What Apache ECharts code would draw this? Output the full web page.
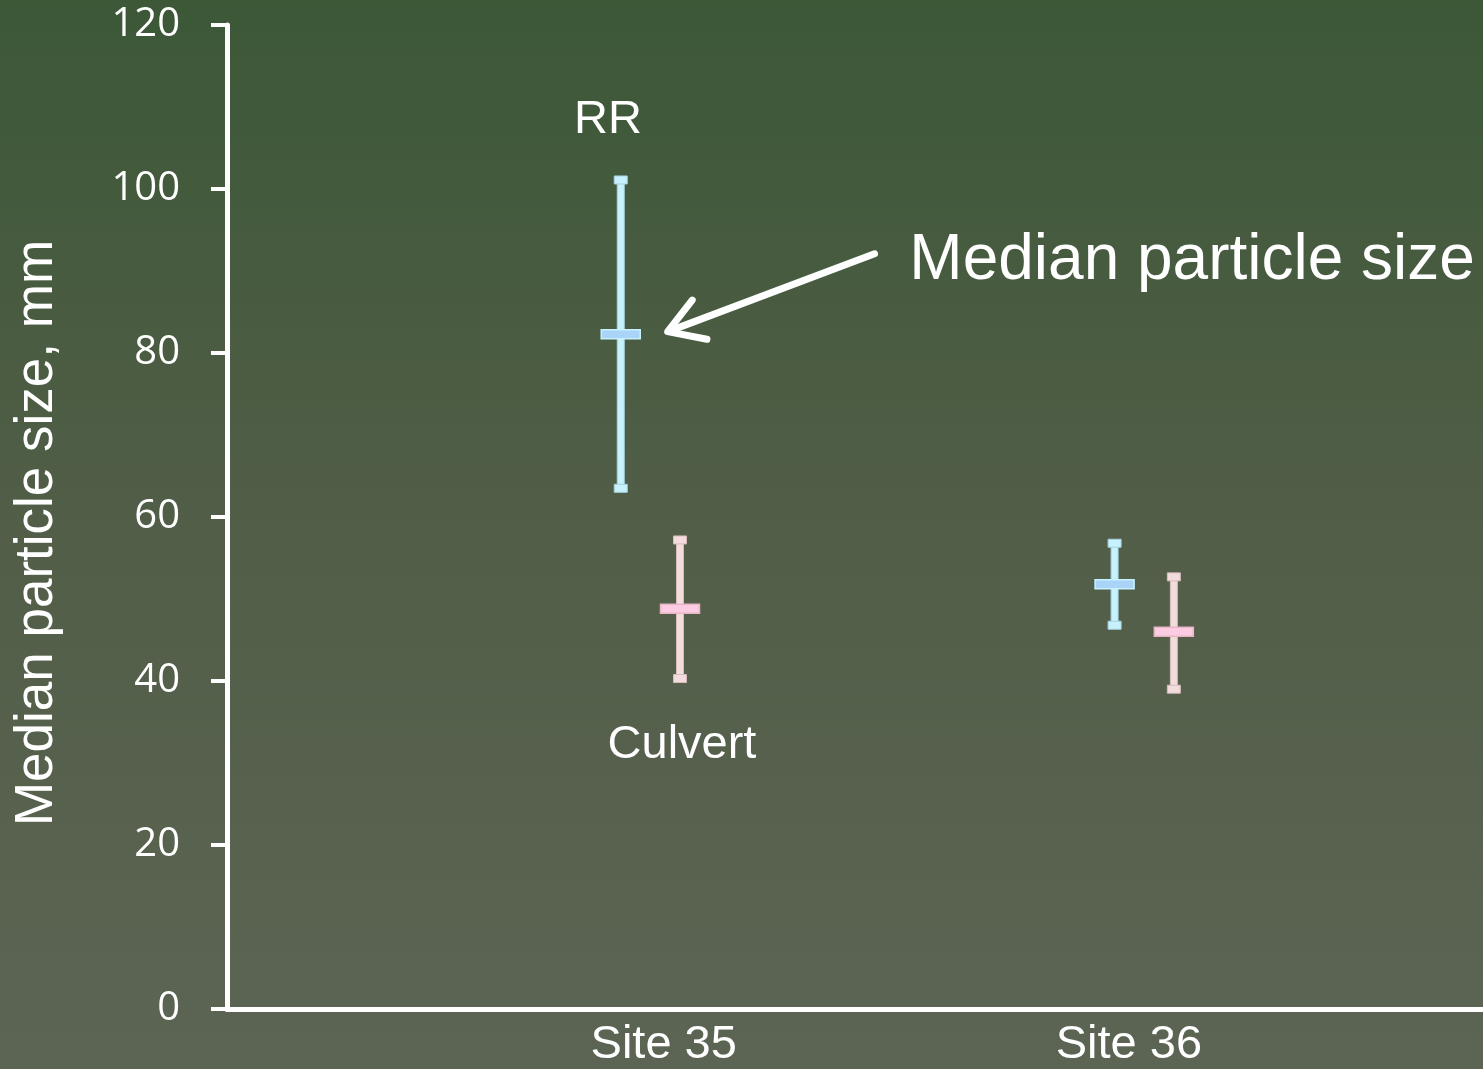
<!DOCTYPE html>
<html>
<head>
<meta charset="utf-8">
<script src="https://cdn.jsdelivr.net/npm/echarts@6/dist/echarts.min.js"></script>
<style>
html,body{margin:0;padding:0;}
#chart{width:1483px;height:1069px;}
</style>
</head>
<body>
<div id="chart"></div>
<script>
// ---- data ----
var categories = ['Site 35', 'Site 36'];
var siteIndex = [1, 2];
var yTicks = [0, 20, 40, 60, 80, 100, 120];
var rrLow = [63.5, 46.8];
var rrMedian = [82.3, 51.8];
var rrHigh = [101.1, 56.8];
var culvertLow = [40.3, 39.0];
var culvertMedian = [48.8, 46.0];
var culvertHigh = [57.2, 52.7];
var labelPositions = [1.027, 1.969];

var OFFSET = 0.06;
var chart = echarts.init(document.getElementById('chart'));

function errorBarSeries(name, low, med, high, dx, lineFill, lineStroke, medFill, medStroke) {
  var data = siteIndex.map(function (s, i) { return [s + dx, low[i], med[i], high[i]]; });
  return {
    type: 'custom', name: name, data: data,
    encode: { x: 0, y: [1, 2, 3] },
    renderItem: function (params, api) {
      var x = api.value(0);
      var pLow = api.coord([x, api.value(1)]);
      var pMed = api.coord([x, api.value(2)]);
      var pHigh = api.coord([x, api.value(3)]);
      var cx = pLow[0];
      var lineStyle = { fill: lineFill, stroke: lineStroke, lineWidth: 1 };
      return {
        type: 'group',
        children: [
          { type: 'rect', shape: { x: cx - 3.5, y: pHigh[1], width: 7, height: pLow[1] - pHigh[1] }, style: lineStyle },
          { type: 'rect', shape: { x: cx - 6.5, y: pHigh[1] - 4, width: 13, height: 8 }, style: lineStyle },
          { type: 'rect', shape: { x: cx - 6.5, y: pLow[1] - 4, width: 13, height: 8 }, style: lineStyle },
          { type: 'rect', shape: { x: cx - 19.5, y: pMed[1] - 4.5, width: 39, height: 9 }, style: { fill: medFill, stroke: medStroke, lineWidth: 1.5 } }
        ]
      };
    }
  };
}

var option = {
  backgroundColor: {
    type: 'linear', x: 0, y: 0, x2: 0, y2: 1,
    colorStops: [
      { offset: 0, color: '#3c5837' },
      { offset: 0.5, color: '#525e48' },
      { offset: 1, color: '#5c6554' }
    ]
  },
  animation: false,
  grid: { left: 227, right: 0, top: 25, bottom: 55, containLabel: false },
  xAxis: {
    type: 'value', min: 0.1427, max: 2.686,
    splitLine: { show: false },
    axisLine: { show: true, onZero: false, lineStyle: { color: '#ffffff', width: 5 } },
    axisTick: { show: false },
    axisLabel: {
      show: true,
      customValues: labelPositions,
      formatter: function (v) {
        var idx = labelPositions.indexOf(v);
        return idx >= 0 ? categories[idx] : '';
      },
      color: '#ffffff', fontFamily: 'Liberation Sans', fontSize: 47, margin: 13
    }
  },
  yAxis: {
    type: 'value', min: 0, max: 120, interval: 20,
    name: 'Median particle size, mm', nameLocation: 'middle', nameGap: 163,
    nameTextStyle: { color: '#ffffff', fontFamily: 'Liberation Sans', fontSize: 53, padding: [0, 32, 0, 0] },
    splitLine: { show: false },
    axisLine: { show: true, lineStyle: { color: '#ffffff', width: 5 } },
    axisTick: { show: true, length: 16, lineStyle: { color: '#ffffff', width: 4 } },
    axisLabel: {
      color: '#ffffff', fontFamily: 'Open Sans', fontSize: 40, margin: 47,
      formatter: function (v) { return yTicks.indexOf(v) >= 0 ? String(v) : ''; }
    }
  },
  series: [
    errorBarSeries('RR', rrLow, rrMedian, rrHigh, -OFFSET, '#c6f1fd', '#a6d3e0', '#a9d4f7', '#c6f1fd'),
    errorBarSeries('Culvert', culvertLow, culvertMedian, culvertHigh, OFFSET, '#f3dcdc', '#d6bcbc', '#fccde2', '#e6b6c6')
  ]
};
chart.setOption(option);

// annotations placed in data coordinates
var annotations = [
  { text: 'RR', at: [0.914, 108.4], size: 47 },
  { text: 'Culvert', at: [1.064, 32.2], size: 47 },
  { text: 'Median particle size', at: [2.097, 91.2], size: 64 }
];
var arrowFrom = [1.454, 92.1];
var arrowTo = [1.035, 82.6];

function px(p) { return chart.convertToPixel({ gridIndex: 0 }, p); }
var graphics = annotations.map(function (a) {
  var p = px(a.at);
  return {
    type: 'text', x: p[0], y: p[1],
    style: { text: a.text, fill: '#ffffff', font: a.size + 'px "Liberation Sans"', align: 'center', verticalAlign: 'middle' }
  };
});
var s = px(arrowFrom), t = px(arrowTo);
var ang = Math.atan2(s[1] - t[1], s[0] - t[0]);
var headLen = 40, spread = 0.55;
var h1 = [t[0] + headLen * Math.cos(ang + spread), t[1] + headLen * Math.sin(ang + spread)];
var h2 = [t[0] + headLen * Math.cos(ang - spread), t[1] + headLen * Math.sin(ang - spread)];
var arrowStyle = { stroke: '#ffffff', lineWidth: 7, lineCap: 'round', lineJoin: 'round', fill: null };
graphics.push({ type: 'line', shape: { x1: s[0], y1: s[1], x2: t[0] + 3 * Math.cos(ang), y2: t[1] + 3 * Math.sin(ang) }, style: arrowStyle });
graphics.push({ type: 'polyline', shape: { points: [h1, t, h2] }, style: arrowStyle });
chart.setOption({ graphic: graphics });
</script>
</body>
</html>
